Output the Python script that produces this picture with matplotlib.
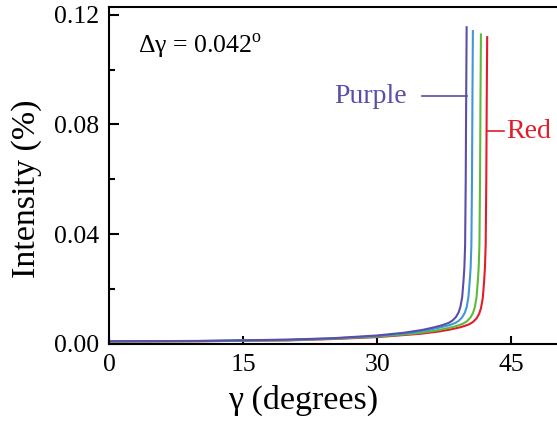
import matplotlib
matplotlib.use('Agg')
import matplotlib.pyplot as plt
from matplotlib.ticker import MultipleLocator, FormatStrFormatter

plt.rcParams['font.family'] = ['Liberation Serif', 'DejaVu Serif']
plt.rcParams['mathtext.fontset'] = 'custom'
plt.rcParams['mathtext.rm'] = 'Liberation Serif'

# valores (gamma em graus, intensidade em %)
x_purple = [0, 10, 20, 25, 30, 33, 35, 36, 37, 37.5, 38, 38.4, 38.8, 39.1, 39.3, 39.5,
            39.65, 39.75, 39.83, 39.9, 39.95, 40.0]
y_purple = [0.0010, 0.0011, 0.0016, 0.0021, 0.0031, 0.0041, 0.0051, 0.0058, 0.0066, 0.0071,
            0.0077, 0.0085, 0.0098, 0.0115, 0.0135, 0.0170, 0.0230, 0.0280, 0.0360, 0.0600,
            0.0900, 0.1154]

x_blue = [0, 10, 20, 25, 30, 33.5, 35.6, 36.6, 37.65, 38.2, 38.7, 39.1, 39.5, 39.8, 40.0, 40.2,
          40.35, 40.45, 40.53, 40.6, 40.65, 40.7]
y_blue = [0.0010, 0.0011, 0.0015, 0.0020, 0.0029, 0.0040, 0.0050, 0.0057, 0.0065, 0.0070,
          0.0076, 0.0084, 0.0097, 0.0114, 0.0134, 0.0170, 0.0230, 0.0280, 0.0360, 0.0600,
          0.0900, 0.1140]

x_green = [0, 10, 20, 25, 30, 34.2, 36.4, 37.5, 38.6, 39.1, 39.6, 40.0, 40.4, 40.7, 40.9, 41.1,
           41.25, 41.35, 41.43, 41.5, 41.55, 41.6]
y_green = [0.0009, 0.0010, 0.0014, 0.0019, 0.0027, 0.0038, 0.0048, 0.0055, 0.0063, 0.0068,
           0.0074, 0.0082, 0.0095, 0.0112, 0.0132, 0.0168, 0.0228, 0.0280, 0.0360, 0.0600,
           0.0900, 0.1128]

x_red = [0, 10, 20, 25, 30, 34.8, 37.0, 38.2, 39.3, 39.8, 40.3, 40.7, 41.1, 41.4, 41.6, 41.8,
         41.95, 42.05, 42.13, 42.2, 42.25, 42.3]
y_red = [0.0009, 0.0010, 0.0013, 0.0018, 0.0025, 0.0037, 0.0046, 0.0053, 0.0061, 0.0066,
         0.0072, 0.0080, 0.0093, 0.0110, 0.0130, 0.0166, 0.0225, 0.0280, 0.0360, 0.0600,
         0.0900, 0.1118]

c_purple = '#5a4ea6'
c_blue = '#3f98d8'
c_green = '#5dbb3c'
c_red = '#e11d2a'

fig = plt.figure(figsize=(5.57, 4.23), dpi=100)
ax = fig.add_axes([0.1957, 0.1868, 0.8106, 0.7955])

for xs, ys, c in [(x_red, y_red, c_red), (x_green, y_green, c_green),
                  (x_blue, y_blue, c_blue), (x_purple, y_purple, c_purple)]:
    ax.plot(xs, ys, color=c, lw=1.5)

ax.set_xlim(0, 50.5)
ax.set_ylim(0, 0.1226)
ax.xaxis.set_major_locator(MultipleLocator(15))
ax.yaxis.set_major_locator(MultipleLocator(0.04))
ax.yaxis.set_minor_locator(MultipleLocator(0.02))
ax.yaxis.set_major_formatter(FormatStrFormatter('%.2f'))
ax.tick_params(direction='in', labelsize=18.5, width=1.5)
ax.tick_params(axis='x', which='major', length=6, pad=7)
ax.tick_params(axis='y', which='major', length=7, pad=7)
ax.tick_params(axis='y', which='minor', direction='in', length=4, width=1.5)
for s in ax.spines.values():
    s.set_linewidth(1.5)

ax.set_xlabel('γ (degrees)', fontsize=24.5)
ax.set_ylabel('Intensity (%)', fontsize=24.5)
ax.xaxis.set_label_coords(0.43, -0.12)
ax.yaxis.set_label_coords(-0.148, 0.46)

ax.text(0.065, 0.885, 'Δγ = 0.042$^\\mathregular{o}$', transform=ax.transAxes,
        fontsize=18.5, va='center', ha='left')

# rotulos das curvas
ax.text(33.3, 0.0902, 'Purple', color=c_purple, fontsize=20, va='center', ha='right')
ax.plot([35.0, 40.0], [0.0902, 0.0902], color=c_purple, lw=1.2)
ax.text(44.4, 0.0775, 'Red', color=c_red, fontsize=20, va='center', ha='left')
ax.plot([42.3, 44.2], [0.0775, 0.0775], color=c_red, lw=1.2)

fig.savefig('out.png', dpi=100)
